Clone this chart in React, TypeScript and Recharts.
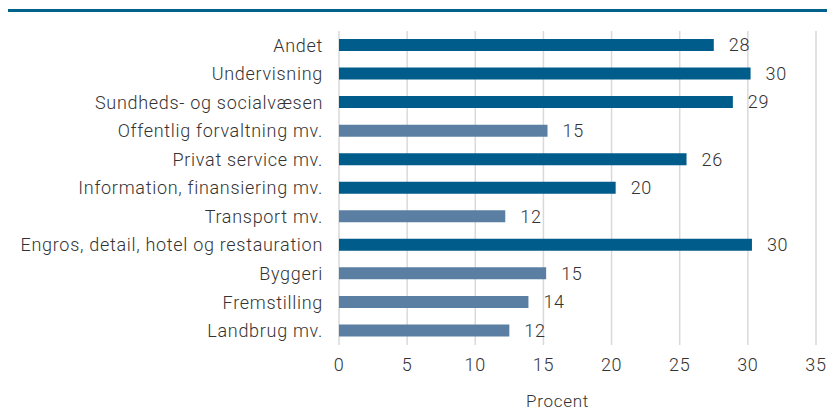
import React from 'react';
import { BarChart, Bar, XAxis, YAxis, CartesianGrid, Cell, LabelList } from 'recharts';

const categories = [
    'Andet',
    'Undervisning',
    'Sundheds- og socialvæsen',
    'Offentlig forvaltning mv.',
    'Privat service mv.',
    'Information, finansiering mv.',
    'Transport mv.',
    'Engros, detail, hotel og restauration',
    'Byggeri',
    'Fremstilling',
    'Landbrug mv.',
];
const values = [27.5, 30.2, 28.9, 15.3, 25.5, 20.3, 12.2, 30.3, 15.2, 13.9, 12.5];
const labels = ['28', '30', '29', '15', '26', '20', '12', '30', '15', '14', '12'];
const highlighted = [true, true, true, false, true, true, false, true, false, false, false];
const ticks = [0, 5, 10, 15, 20, 25, 30, 35];

const DARK = '#005c8a';
const LIGHT = '#5a7fa3';
const FONT = 'Roboto, sans-serif';
const TEXT = { fontSize: 18, fill: '#333', fontFamily: FONT, fontWeight: 300, letterSpacing: 0.7 };

const data = categories.map((name, i) => ({ name, value: values[i], label: labels[i] }));

const App: React.FC = () => {
    return (
        <div style={{ position: 'relative', width: 835, height: 417, margin: -8, background: '#fff', fontFamily: FONT }}>
            <div style={{ position: 'absolute', left: 5, right: 0, top: 9, height: 3, background: '#00628b' }} />
            <BarChart
                width={835}
                height={417}
                data={data}
                layout="vertical"
                margin={{ top: 31, right: 19, bottom: 0, left: 0 }}
            >
                <CartesianGrid horizontal={false} stroke="#d9d9d9" strokeWidth={1.5} />
                <XAxis
                    type="number"
                    domain={[0, 35]}
                    ticks={ticks}
                    axisLine={false}
                    tickLine={false}
                    height={72}
                    tickMargin={7}
                    tick={TEXT}
                    label={{ value: 'Procent', position: 'insideBottom', dx: -20, offset: 10, ...TEXT, fontSize: 17 }}
                />
                <YAxis
                    type="category"
                    dataKey="name"
                    width={339}
                    axisLine={false}
                    tickLine={false}
                    tickMargin={10}
                    interval={0}
                    tick={TEXT}
                />
                <Bar dataKey="value" barSize={12} isAnimationActive={false}>
                    {data.map((entry, index) => (
                        <Cell key={`cell-${index}`} fill={highlighted[index] ? DARK : LIGHT} />
                    ))}
                    <LabelList dataKey="label" position="right" offset={15} style={TEXT} />
                </Bar>
            </BarChart>
        </div>
    );
};

export default App;
